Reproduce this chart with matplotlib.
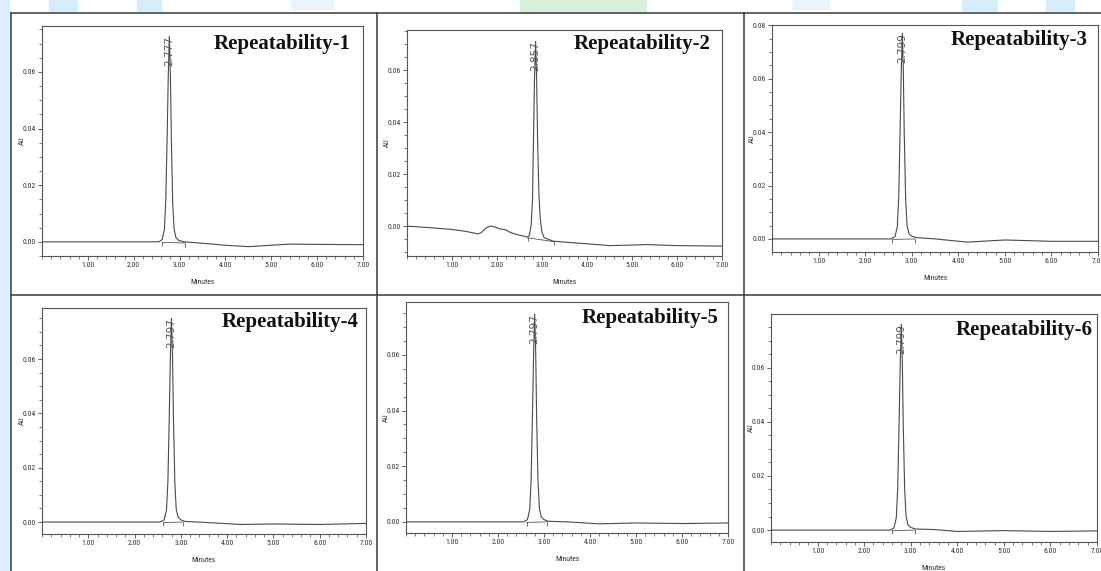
import matplotlib
matplotlib.use('Agg')
import matplotlib.pyplot as plt
from matplotlib.ticker import MultipleLocator, FormatStrFormatter
from matplotlib.patches import Rectangle
from matplotlib.lines import Line2D
from matplotlib import font_manager

# ---------------- data ----------------
titles = ['Repeatability-1', 'Repeatability-2', 'Repeatability-3',
          'Repeatability-4', 'Repeatability-5', 'Repeatability-6']
peak_labels = ['2.777', '2.857', '2.799', '2.797', '2.797', '2.799']
peak_rt = [2.777, 2.857, 2.799, 2.797, 2.797, 2.799]
peak_top = [0.0725, 0.0710, 0.0770, 0.0750, 0.0747, 0.0760]

t1 = [0.00, 1.00, 2.00, 2.55, 2.62, 2.67, 2.70, 2.73, 2.755, 2.777, 2.80, 2.82, 2.85, 2.88, 2.92, 2.98, 3.10, 3.50, 4.00, 4.50, 5.00, 5.40, 6.00, 7.00]
a1 = [0.0000, 0.0000, 0.0000, 0.0000, 0.0008, 0.0045, 0.0150, 0.0380, 0.0600, 0.0725, 0.0590, 0.0370, 0.0140, 0.0045, 0.0015, 0.0005, 0.0000, -0.0005, -0.0012, -0.0017, -0.0012, -0.0008, -0.0009, -0.0010]

t2 = [0.00, 0.50, 1.00, 1.30, 1.58, 1.65, 1.75, 1.85, 1.95, 2.05, 2.20, 2.30, 2.50, 2.68, 2.72, 2.76, 2.79, 2.81, 2.835, 2.857, 2.88, 2.90, 2.93, 2.96, 3.00, 3.05, 3.25, 3.60, 4.00, 4.50, 5.00, 5.30, 6.00, 7.00]
a2 = [0.0000, -0.0006, -0.0013, -0.0020, -0.0030, -0.0025, -0.0008, 0.0000, -0.0003, -0.0010, -0.0015, -0.0025, -0.0035, -0.0042, -0.0035, 0.0005, 0.0110, 0.0330, 0.0580, 0.0710, 0.0570, 0.0350, 0.0130, 0.0030, -0.0025, -0.0045, -0.0058, -0.0063, -0.0068, -0.0075, -0.0073, -0.0071, -0.0075, -0.0077]

t3 = [0.00, 1.00, 2.00, 2.55, 2.64, 2.69, 2.72, 2.75, 2.777, 2.799, 2.82, 2.84, 2.87, 2.90, 2.94, 3.00, 3.10, 3.50, 4.20, 5.00, 6.00, 7.00]
a3 = [0.0000, 0.0000, 0.0000, 0.0000, 0.0008, 0.0045, 0.0150, 0.0400, 0.0640, 0.0770, 0.0630, 0.0390, 0.0150, 0.0050, 0.0020, 0.0010, 0.0005, 0.0000, -0.0012, -0.0004, -0.0009, -0.0009]

t4 = [0.00, 1.00, 2.00, 2.55, 2.64, 2.69, 2.72, 2.75, 2.775, 2.797, 2.82, 2.84, 2.87, 2.90, 2.94, 3.00, 3.10, 3.50, 4.30, 5.00, 6.00, 7.00]
a4 = [0.0000, 0.0000, 0.0000, 0.0000, 0.0008, 0.0045, 0.0150, 0.0390, 0.0620, 0.0750, 0.0610, 0.0380, 0.0145, 0.0048, 0.0018, 0.0008, 0.0002, -0.0001, -0.0009, -0.0007, -0.0009, -0.0005]

t5 = [0.00, 1.00, 2.00, 2.55, 2.64, 2.69, 2.72, 2.75, 2.775, 2.797, 2.82, 2.84, 2.87, 2.90, 2.94, 3.00, 3.10, 3.50, 4.20, 5.00, 6.00, 7.00]
a5 = [0.0000, 0.0000, 0.0000, 0.0000, 0.0008, 0.0045, 0.0150, 0.0390, 0.0615, 0.0747, 0.0605, 0.0375, 0.0145, 0.0048, 0.0018, 0.0008, 0.0002, 0.0000, -0.0007, -0.0004, -0.0006, -0.0004]

t6 = [0.00, 1.00, 2.00, 2.55, 2.64, 2.69, 2.72, 2.75, 2.777, 2.799, 2.82, 2.84, 2.87, 2.90, 2.94, 3.00, 3.10, 3.50, 4.00, 5.00, 6.00, 7.00]
a6 = [0.0000, 0.0000, 0.0000, 0.0000, 0.0008, 0.0045, 0.0150, 0.0395, 0.0630, 0.0760, 0.0620, 0.0385, 0.0150, 0.0050, 0.0020, 0.0010, 0.0004, 0.0002, -0.0005, -0.0002, -0.0005, -0.0003]

times = [t1, t2, t3, t4, t5, t6]
signals = [a1, a2, a3, a4, a5, a6]

# integration marks (start time, start AU, end time, end AU)
int_t0 = [2.62, 2.68, 2.58, 2.62, 2.62, 2.60]
int_a0 = [-0.0002, -0.0045, -0.0002, -0.0002, -0.0002, -0.0002]
int_t1 = [3.12, 3.27, 3.08, 3.05, 3.07, 3.10]
int_a1 = [-0.0004, -0.0060, 0.0000, 0.0000, 0.0000, 0.0000]

x_ticklabels = ['1.00', '2.00', '3.00', '4.00', '5.00', '6.00', '7.00']

# ---------------- layout ----------------
W, H = 1101, 571
fig = plt.figure(figsize=(W / 100, H / 100), dpi=100)
fig.patch.set_facecolor('white')

def frect(l, t, r, b):
    return [l / W, 1 - b / H, (r - l) / W, (b - t) / H]

def fx(x):
    return x / W

def fy(y):
    return 1 - y / H

# faint watermark
wm = [(0, 0, 9, 571, '#dcefff'),
      (49, 0, 28, 11, '#d6edfd'), (137, 0, 24, 11, '#d6edfd'),
      (291, 0, 42, 9, '#e9f4fd'), (520, 0, 126, 12, '#d8f1da'),
      (793, 0, 36, 9, '#e9f4fd'), (962, 0, 35, 11, '#d6edfd'),
      (1046, 0, 28, 11, '#d6edfd')]
for (x, y, w, h, c) in wm:
    fig.patches.append(Rectangle((fx(x), fy(y + h)), w / W, h / H,
                                 transform=fig.transFigure, color=c, zorder=0))

# table grid lines
grid_col = '#3a3a3a'
lines = [((11, 13), (1101, 13)), ((11, 13), (11, 571)),
         ((377, 13), (377, 571)), ((744, 13), (744, 571)),
         ((11, 295), (1101, 295))]
for (p0, p1) in lines:
    fig.add_artist(Line2D([fx(p0[0]), fx(p1[0])], [fy(p0[1]), fy(p1[1])],
                          transform=fig.transFigure, color=grid_col, lw=1.1))

axes_px = [(42, 26, 363, 256), (407, 30, 722, 256), (772, 25, 1098, 252),
           (42, 308, 366, 534), (406, 302, 728, 533), (771, 314, 1097, 542)]
ylims = [(-0.005, 0.0762), (-0.0115, 0.0754), (-0.0049, 0.0801),
         (-0.0044, 0.0788), (-0.0040, 0.0790), (-0.0044, 0.0798)]
title_pos = [(350, 44), (711, 44), (1088, 40), (358, 322), (718, 318), (1093, 330)]

avail = {f.name for f in font_manager.fontManager.ttflist}
small_family = 'DejaVu Sans'
for cand in ['Liberation Sans Narrow', 'Roboto Condensed', 'Open Sans Condensed']:
    if cand in avail:
        small_family = cand
        break
small_kw = dict(family=small_family, stretch='condensed')

line_col = '#4a4a4a'
for i in range(6):
    l, t, r, b = axes_px[i]
    ax = fig.add_axes(frect(l, t, r, b))
    ax.plot(times[i], signals[i], color=line_col, lw=0.8, zorder=3)
    ax.plot([int_t0[i], int_t1[i]], [int_a0[i], int_a1[i]], color='#555555', lw=0.6, zorder=2)
    ax.plot([int_t0[i], int_t1[i]], [int_a0[i] - 0.0006, int_a1[i] - 0.0006],
            linestyle='none', marker='|', ms=3, mew=0.6, color='#555555')
    ax.text(peak_rt[i], peak_top[i], peak_labels[i], rotation=90, ha='center',
            va='top', fontsize=7.5, color='#555555', family='DejaVu Sans', zorder=4)
    ax.set_xlim(0, 7)
    ax.set_ylim(*ylims[i])
    ax.xaxis.set_major_locator(MultipleLocator(1.0))
    ax.xaxis.set_minor_locator(MultipleLocator(0.2))
    ax.yaxis.set_major_locator(MultipleLocator(0.02))
    ax.yaxis.set_minor_locator(MultipleLocator(0.005))
    ax.yaxis.set_major_formatter(FormatStrFormatter('%.2f'))
    ax.set_xticks([1, 2, 3, 4, 5, 6, 7])
    ax.set_xticklabels(x_ticklabels)
    ax.tick_params(axis='both', which='major', direction='out', length=3,
                   width=0.6, color='#444444', labelsize=5.5, labelcolor='#333333', pad=1.5)
    ax.tick_params(axis='both', which='minor', direction='out', length=2,
                   width=0.5, color='#444444')
    for lab in ax.get_xticklabels() + ax.get_yticklabels():
        lab.set_family(small_family)
        lab.set_stretch('condensed')
    for s in ax.spines.values():
        s.set_color('#555555')
        s.set_linewidth(0.8)
    ax.set_xlabel('Minutes', fontsize=5.5, color='#333333', **small_kw)
    ax.xaxis.set_label_coords(0.5, -23.0 / (b - t))
    ax.set_ylabel('AU', fontsize=5.5, color='#333333', **small_kw)
    ax.yaxis.set_label_coords(-17.0 / (r - l), 0.5)
    tx, ty = title_pos[i]
    fig.text(fx(tx), fy(ty), titles[i], ha='right', va='center', fontsize=15,
             fontweight='bold', family=['Liberation Serif', 'DejaVu Serif'], color='#111111')

fig.savefig('out.png', dpi=100, facecolor='white')
